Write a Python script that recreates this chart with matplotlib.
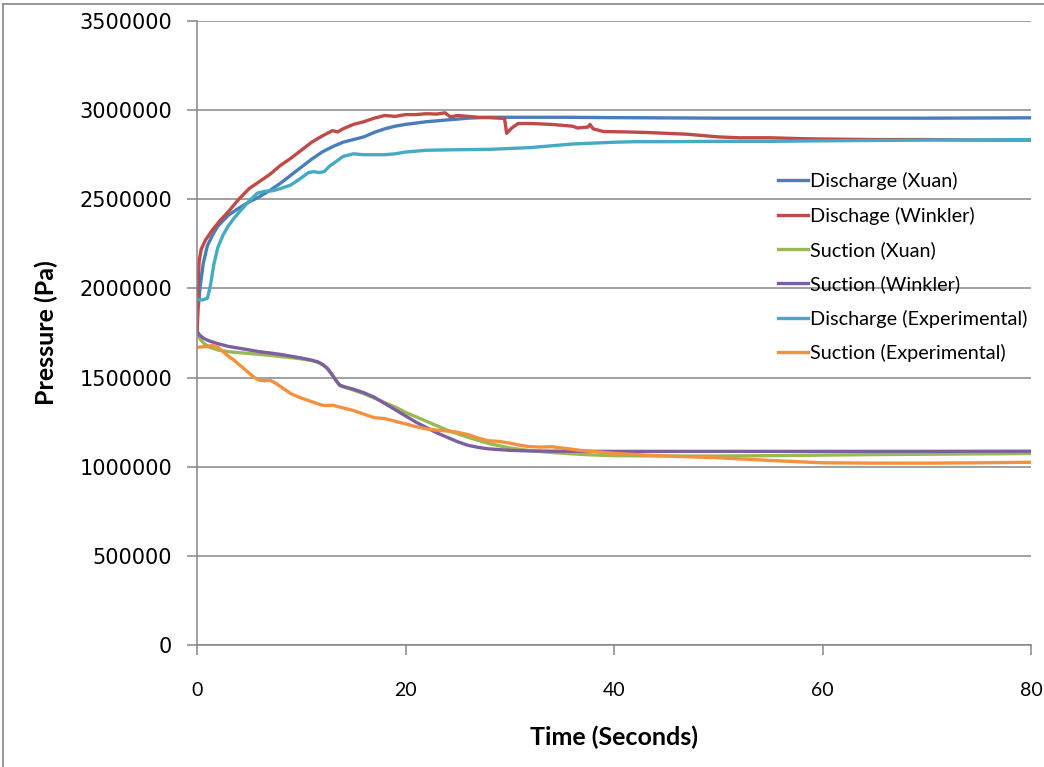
import matplotlib
matplotlib.use("Agg")
import matplotlib.pyplot as plt
from matplotlib.lines import Line2D

# Discharge (Xuan)
t_dx = [0, 0.1, 0.3, 0.6, 1, 1.5, 2, 3, 4, 5, 6, 7, 8, 9, 10, 11, 12, 13, 14, 15, 16,
        17, 18, 19, 20, 22, 24, 26, 28, 30, 35, 40, 50, 60, 70, 80]
p_dx = [1750, 1880, 2010, 2140, 2240, 2300, 2350, 2410, 2450, 2485, 2515, 2550, 2590,
        2635, 2680, 2725, 2765, 2795, 2820, 2835, 2850, 2875, 2895, 2910, 2920, 2935,
        2945, 2955, 2960, 2960, 2960, 2958, 2955, 2955, 2955, 2957]

# Dischage (Winkler)
t_dw = [0, 0.1, 0.2, 0.4, 0.8, 1.5, 2.2, 3, 4, 5, 6, 7, 8, 9, 10, 11, 12, 12.5, 13, 13.5,
        14, 15, 16, 17, 18, 19, 20, 21, 22, 23, 23.8, 24.3, 25, 26, 27, 28, 29, 29.5,
        29.7, 30.2, 30.8, 32, 34, 36, 36.5, 37.5, 37.7, 38, 39, 41, 43, 45, 47, 49, 50,
        52, 55, 58, 60, 65, 70, 75, 80]
p_dw = [1750, 2000, 2150, 2220, 2270, 2330, 2380, 2430, 2500, 2560, 2600, 2640, 2690,
        2730, 2775, 2820, 2855, 2870, 2885, 2878, 2895, 2920, 2935, 2955, 2970, 2965,
        2975, 2975, 2980, 2978, 2985, 2962, 2970, 2965, 2960, 2958, 2955, 2953, 2870,
        2900, 2925, 2925, 2920, 2910, 2900, 2905, 2920, 2895, 2880, 2878, 2875, 2870,
        2865, 2855, 2850, 2845, 2845, 2840, 2838, 2835, 2835, 2832, 2832]

# Suction (Xuan)
t_sx = [0, 0.3, 0.7, 1.2, 2, 3, 4, 5, 6, 7, 8, 9, 10, 11, 11.6, 12.1, 12.5, 12.9, 13.3,
        13.7, 14.2, 15, 16, 17, 18, 19, 20, 21, 22, 23, 24, 25, 26, 28, 30, 32, 34, 36,
        38, 40, 45, 50, 55, 60, 65, 70, 75, 80]
p_sx = [1750, 1715, 1690, 1670, 1655, 1645, 1640, 1635, 1630, 1625, 1618, 1612, 1605,
        1595, 1585, 1570, 1550, 1520, 1485, 1455, 1445, 1430, 1410, 1385, 1360, 1335,
        1305, 1280, 1255, 1230, 1205, 1185, 1165, 1130, 1105, 1090, 1080, 1072, 1066,
        1062, 1060, 1060, 1062, 1065, 1068, 1070, 1072, 1074]

# Suction (Winkler)
t_sw = [0, 0.3, 0.7, 1.2, 2, 3, 4, 5, 6, 7, 8, 9, 10, 11, 11.6, 12.1, 12.5, 12.9, 13.3,
        13.7, 14.2, 15, 16, 17, 18, 19, 20, 21, 22, 23, 24, 25, 26, 27, 28, 30, 32, 35,
        40, 50, 60, 70, 80]
p_sw = [1760, 1735, 1718, 1705, 1690, 1675, 1665, 1655, 1645, 1638, 1630, 1620, 1610,
        1598, 1588, 1572, 1552, 1522, 1487, 1457, 1447, 1435, 1415, 1390, 1355, 1320,
        1285, 1250, 1220, 1190, 1165, 1140, 1120, 1108, 1100, 1092, 1088, 1087, 1086,
        1086, 1086, 1086, 1087]

# Discharge (Experimental)
t_de = [0, 0.5, 1.0, 1.3, 1.6, 2.0, 2.5, 3, 3.5, 4, 5, 5.8, 6.5, 7.3, 8, 9, 10, 10.7,
        11.2, 11.7, 12.2, 12.7, 13.3, 14, 15, 16, 17, 18, 19, 20, 22, 25, 28, 30, 32, 34,
        36, 38, 40, 42, 45, 50, 55, 60, 65, 70, 75, 80]
p_de = [1940, 1935, 1945, 2020, 2130, 2230, 2300, 2350, 2390, 2425, 2490, 2535, 2545,
        2548, 2560, 2580, 2620, 2650, 2655, 2650, 2655, 2685, 2710, 2740, 2755, 2750,
        2750, 2750, 2755, 2765, 2775, 2778, 2780, 2785, 2790, 2800, 2810, 2815, 2820,
        2823, 2823, 2825, 2825, 2828, 2830, 2832, 2833, 2835]

# Suction (Experimental)
t_se = [0, 0.5, 1, 1.5, 2, 2.5, 3, 3.5, 4, 4.5, 5, 5.5, 6, 6.5, 7, 7.5, 8, 8.5, 9, 10,
        11, 12, 12.5, 13, 14, 15, 16, 17, 18, 19, 20, 21, 22, 23, 24, 25, 26, 27, 28, 29,
        30, 31, 32, 33, 34, 35, 37, 40, 43, 46, 50, 55, 60, 65, 70, 75, 80]
p_se = [1670, 1672, 1675, 1680, 1670, 1645, 1620, 1600, 1575, 1550, 1525, 1500, 1485,
        1482, 1485, 1470, 1450, 1430, 1410, 1385, 1365, 1345, 1343, 1345, 1330, 1315,
        1295, 1275, 1270, 1255, 1240, 1225, 1212, 1205, 1200, 1193, 1180, 1160, 1145,
        1142, 1132, 1120, 1112, 1110, 1112, 1105, 1090, 1075, 1065, 1058, 1050, 1035,
        1022, 1020, 1020, 1022, 1025]

series = [
    ("Discharge (Xuan)", t_dx, p_dx, "#4A7EBB"),
    ("Dischage (Winkler)", t_dw, p_dw, "#BE4B48"),
    ("Suction (Xuan)", t_sx, p_sx, "#98B954"),
    ("Suction (Winkler)", t_sw, p_sw, "#7D5FA0"),
    ("Discharge (Experimental)", t_de, p_de, "#46AAC5"),
    ("Suction (Experimental)", t_se, p_se, "#F3913F"),
]

x_ticks = [0, 20, 40, 60, 80]
y_ticks = [0, 500000, 1000000, 1500000, 2000000, 2500000, 3000000, 3500000]

grey = "#868686"

fig = plt.figure(figsize=(10.44, 7.67), dpi=100)
ax = fig.add_axes([197 / 1044, 1 - 645 / 767, (1031 - 197) / 1044, (645 - 21) / 767])

for label, t, p, c in series:
    ax.plot(t, [v * 1000 for v in p], color=c, lw=2.4, label=label,
            solid_joinstyle="round", solid_capstyle="round")

ax.set_xlim(0, 80)
ax.set_ylim(0, 3500000)
ax.set_xticks(x_ticks)
ax.set_yticks(y_ticks)
ax.set_xticklabels([str(v) for v in x_ticks], fontfamily="Lato", fontsize=14)
ax.set_yticklabels([str(v) for v in y_ticks], fontfamily="DejaVu Sans", fontsize=15)

ax.grid(axis="y", color=grey, lw=1.1)
ax.set_axisbelow(True)
for s in ("top", "right"):
    ax.spines[s].set_visible(False)
for s in ("left", "bottom"):
    ax.spines[s].set_color(grey)
    ax.spines[s].set_linewidth(1.1)
ax.tick_params(axis="both", direction="out", length=7, width=1.1, color=grey,
               labelcolor="#000000")
ax.tick_params(axis="y", pad=11)
ax.tick_params(axis="x", pad=20)

ax.set_xlabel("Time (Seconds)", fontfamily="Lato", fontweight="bold", fontsize=18,
              labelpad=19)
ax.set_ylabel("Pressure (Pa)", fontfamily="Lato", fontweight="bold", fontsize=18,
              labelpad=15)

handles = [Line2D([0], [0], color=c, lw=2.4) for _, _, _, c in series]
labels = [lab for lab, _, _, _ in series]
ax.legend(handles, labels, loc="upper left", bbox_to_anchor=(0.685, 0.774),
          frameon=False, prop={"family": "Lato", "size": 14.3},
          handlelength=1.5, handletextpad=0.12, labelspacing=0.83, borderpad=0)

# chart-area border
fig.add_artist(Line2D([3 / 1044, 3 / 1044], [0, 1 - 4 / 767], color=grey, lw=1.2,
                      transform=fig.transFigure))
fig.add_artist(Line2D([3 / 1044, 1], [1 - 4 / 767, 1 - 4 / 767], color=grey, lw=1.2,
                      transform=fig.transFigure))

fig.savefig("out.png", dpi=100)
